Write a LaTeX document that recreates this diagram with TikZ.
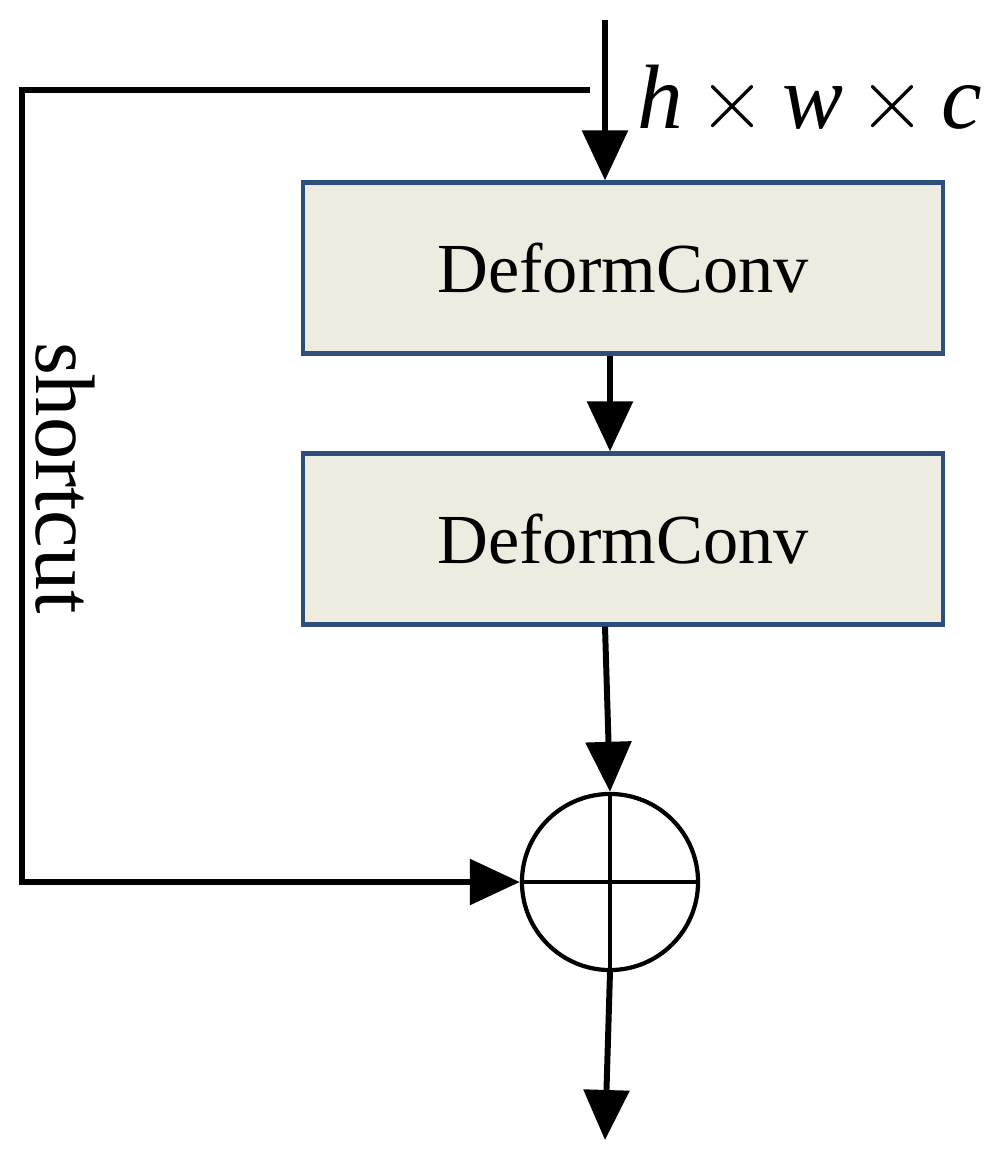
\documentclass[tikz,border=0pt]{standalone}
\usepackage{fontspec}
\setmainfont{Liberation Serif}
\usetikzlibrary{arrows.meta,positioning}
\definecolor{boxfill}{HTML}{EEEBE0}
\definecolor{boxline}{HTML}{2E4F7E}
\tikzset{
  conv/.style={draw=boxline, fill=boxfill, line width=1.2pt, minimum width=6.4cm, minimum height=1.71cm, font=\fontsize{20}{24}\selectfont},
  arr/.style={line width=1.7pt, -{Triangle[length=0.5cm,width=0.45cm]}},
  plus/.style={circle, draw, line width=1.2pt, minimum size=1.76cm, path picture={
      \draw[line width=1.2pt] (path picture bounding box.north) -- (path picture bounding box.south)
        (path picture bounding box.west) -- (path picture bounding box.east);}}
}
\begin{document}
\begin{tikzpicture}[x=0.01cm, y=-0.01cm]
    \useasboundingbox (0,0) rectangle (990,1157);

    % Bloecke
    \node[conv] at (623,268) (conv1) {DeformConv};
    \node[conv] at (623,539) (conv2) {DeformConv};
    \node[plus] at (610,882) (add) {};

    % Ein- und Ausgang
    \coordinate (in) at (605,20);
    \coordinate (split) at (590,90);
    \coordinate (out) at (605,1140);
    \node[font=\fontsize{26}{30}\selectfont\itshape] at (810,100) (dim) {h\,$\times$\,w\,$\times$\,c};

    % Pfeile
    \draw[arr] (in) -- (in |- conv1.north);
    \draw[arr] (conv1.south -| 610,0) -- (conv2.north -| 610,0);
    \draw[arr] (conv2.south -| 605,0) -- (add.north);
    \draw[arr] (add.south) -- (out);

    % Shortcut
    \draw[arr] (split) -- (22,90) |- (add.west);
    \node[rotate=-90, font=\fontsize{24}{28}\selectfont] at (65,478) (sc) {shortcut};

\end{tikzpicture}
\end{document}
